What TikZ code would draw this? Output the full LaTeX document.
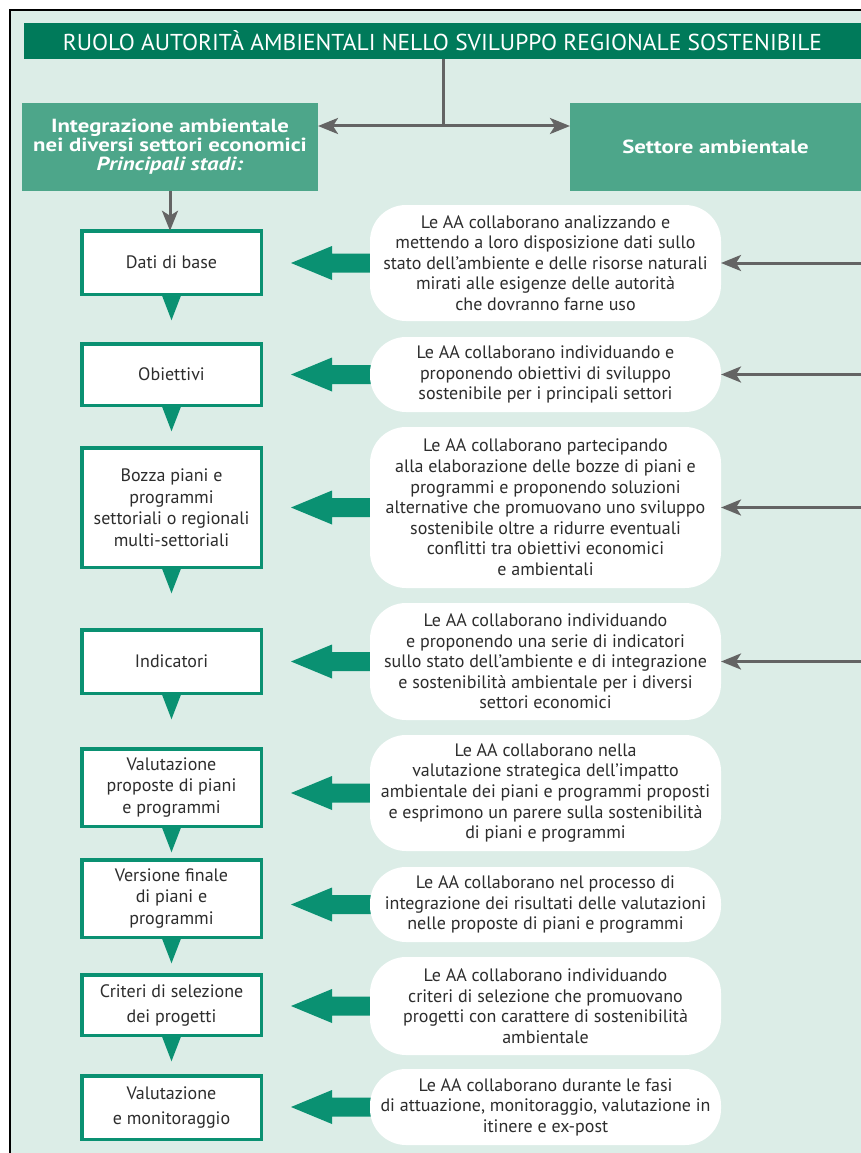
\documentclass[tikz,border=0pt]{standalone}
\usepackage{fontspec}
\setmainfont{PT Sans}
\usetikzlibrary{arrows.meta,calc}
\definecolor{bgmint}{RGB}{220,237,231}
\definecolor{titlegreen}{RGB}{0,122,90}
\definecolor{headgreen}{RGB}{77,166,138}
\definecolor{boxgreen}{RGB}{10,145,114}
\definecolor{greyline}{RGB}{100,100,100}
\definecolor{txt}{RGB}{45,45,45}
\pgfdeclarelayer{back}
\pgfdeclarelayer{mid}
\pgfsetlayers{back,mid,main}
\newcommand{\greenarrow}[1]{%
  \begin{pgfonlayer}{mid}
  \fill[boxgreen] (#1.west) ++(4,-9.5) -- ++(-42,0) -- ++(0,-7.5) -- ++(-41,17) -- ++(41,17) -- ++(0,-7.5) -- ++(42,0) -- cycle;
  \end{pgfonlayer}}
\newcommand{\downtri}[1]{%
  \fill[boxgreen] ($(#1.south)+(-10,0)$) -- ($(#1.south)+(10,0)$) -- ($(#1.south)+(0,26)$) -- cycle;}
\newcommand{\wide}[1]{\scalebox{1.2}[1]{#1}}
\begin{document}
\begin{tikzpicture}[x=1pt,y=-1pt,
  stepbox/.style={draw=boxgreen, line width=3.5pt, fill=white, minimum width=179.5pt,
    inner sep=2pt, outer sep=0pt, align=center, text=txt,
    font=\fontsize{18}{21.5}\selectfont},
  bubble/.style={fill=white, rounded corners=36pt, minimum width=351pt, inner sep=0pt,
    outer sep=0pt, align=center, text=txt, font=\fontsize{18}{20.6}\selectfont},
  headbox/.style={fill=headgreen, inner sep=0pt, outer sep=0pt, align=center, text=white,
    font=\fontsize{19}{19}\selectfont\bfseries},
  greyconn/.style={draw=greyline, line width=3pt},
  greyarrow/.style={greyconn, -{Stealth[length=20pt,width=16pt,inset=5pt]}},
  greydouble/.style={greyconn, {Stealth[length=20pt,width=16pt,inset=5pt]}-{Stealth[length=20pt,width=16pt,inset=5pt]}}
]
\useasboundingbox (0,0) rectangle (861,1153);
\begin{pgfonlayer}{back}
\fill[bgmint] (9,10) rectangle (861,1153);
\draw[black, line width=2pt] (9.5,1153) -- (9.5,10) -- (861,10);
\end{pgfonlayer}

% title and headers
\node[fill=titlegreen, minimum width=837pt, minimum height=36pt, inner sep=0pt, outer sep=0pt, text=white,
  font=\fontsize{23}{26}\selectfont] (title) at (442.5,41)
  {\scalebox{1.02}[1]{RUOLO AUTORITÀ AMBIENTALI NELLO SVILUPPO REGIONALE SOSTENIBILE}};
\node[headbox, minimum width=296pt, minimum height=88pt] (lh) at (170,147)
  {\wide{Integrazione ambientale}\\ \wide{nei diversi settori economici}\\ \wide{\textit{Principali stadi:}}};
\node[headbox, minimum width=291pt, minimum height=88pt] (rh) at (715.5,147) {\wide{Settore ambientale}};

\coordinate (tj) at (443,126);
\draw[greyconn] (tj |- title.south) -- (tj);
\draw[greydouble] (lh.east |- tj) -- (rh.west |- tj);

% stages
\node[stepbox, minimum height=63.5pt] (s1) at (171.5,262.5) {Dati di base};
\node[stepbox, minimum height=61.5pt] (s2) at (171.5,374.5) {Obiettivi};
\node[stepbox, minimum height=119.5pt] (s3) at (171.5,507.5) {Bozza piani e\\ programmi\\ settoriali o regionali\\ multi-settoriali};
\node[stepbox, minimum height=63.5pt] (s4) at (171.5,661.5) {Indicatori};
\node[stepbox, minimum height=77.5pt] (s5) at (171.5,787.5) {Valutazione\\ proposte di piani\\ e programmi};
\node[stepbox, minimum height=77.5pt] (s6) at (171.5,898.5) {Versione finale\\ di piani e\\ programmi};
\node[stepbox, minimum height=60.5pt, font=\fontsize{18}{25}\selectfont] (s7) at (171.5,1005) {Criteri di selezione\\ dei progetti};
\node[stepbox, minimum height=63.5pt, font=\fontsize{18}{25}\selectfont] (s8) at (171.5,1107.5) {Valutazione\\ e monitoraggio};

\draw[greyarrow] (lh.south) -- (lh.south |- s1.north);
\downtri{s1}\downtri{s2}\downtri{s3}\downtri{s4}\downtri{s5}\downtri{s6}\downtri{s7}

% bubbles
\node[bubble, minimum height=116pt] (b1) at (545.5,263)
  {Le AA collaborano analizzando e\\ mettendo a loro disposizione dati sullo\\ stato dell’ambiente e delle risorse naturali\\ mirati alle esigenze delle autorità\\ che dovranno farne uso};
\node[bubble, minimum height=75pt] (b2) at (545.5,374.5)
  {Le AA collaborano individuando e\\ proponendo obiettivi di sviluppo\\ sostenibile per i principali settori};
\node[bubble, minimum height=161pt] (b3) at (545.5,507.5)
  {Le AA collaborano partecipando\\ alla elaborazione delle bozze di piani e\\ programmi e proponendo soluzioni\\ alternative che promuovano uno sviluppo\\ sostenibile oltre a ridurre eventuali\\ conflitti tra obiettivi economici\\ e ambientali};
\node[bubble, minimum height=117pt] (b4) at (545.5,661.5)
  {Le AA collaborano individuando\\ e proponendo una serie di indicatori\\ sullo stato dell’ambiente e di integrazione\\ e sostenibilità ambientale per i diversi\\ settori economici};
\node[bubble, minimum height=116pt] (b5) at (545.5,793)
  {Le AA collaborano nella\\ valutazione strategica dell’impatto\\ ambientale dei piani e programmi proposti\\ e esprimono un parere sulla sostenibilità\\ di piani e programmi};
\node[bubble, minimum height=75pt] (b6) at (545.5,904.5)
  {Le AA collaborano nel processo di\\ integrazione dei risultati delle valutazioni\\ nelle proposte di piani e programmi};
\node[bubble, minimum height=98pt] (b7) at (545.5,1006)
  {Le AA collaborano individuando\\ criteri di selezione che promuovano\\ progetti con carattere di sostenibilità\\ ambientale};
\node[bubble, minimum height=76pt] (b8) at (545.5,1107)
  {Le AA collaborano durante le fasi\\ di attuazione, monitoraggio, valutazione in\\ itinere e ex-post};

\greenarrow{b1}\greenarrow{b2}\greenarrow{b3}\greenarrow{b4}
\greenarrow{b5}\greenarrow{b6}\greenarrow{b7}\greenarrow{b8}

% grey connectors from the environmental sector
\coordinate (r1) at (861,263);
\coordinate (r2) at (861,374.5);
\coordinate (r3) at (861,507.5);
\coordinate (r4) at (861,661.5);
\draw[greyarrow] (r1) -- (b1.east);
\draw[greyarrow] (r2) -- (b2.east);
\draw[greyarrow] (r3) -- (b3.east);
\draw[greyarrow] (r4) -- (b4.east);
\end{tikzpicture}
\end{document}
